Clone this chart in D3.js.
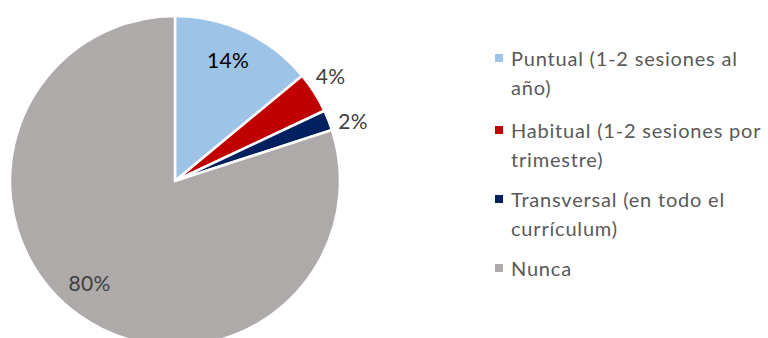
<!DOCTYPE html>
<html>
<head>
<meta charset="utf-8">
<script src="https://cdn.jsdelivr.net/npm/d3@7"></script>
<style>
  html, body { margin: 0; padding: 0; background: #fff; }
  svg { display: block; font-family: Lato, "Open Sans", sans-serif; }
</style>
</head>
<body>
<svg id="chart" width="768" height="338"></svg>
<script>
// Frecuencia de sesiones
const categories = [
  ["Puntual (1-2 sesiones al", "año)"],
  ["Habitual (1-2 sesiones por", "trimestre)"],
  ["Transversal (en todo el", "currículum)"],
  ["Nunca"]
];
const values = [14, 4, 2, 80];
const valueLabels = ["14%", "4%", "2%", "80%"];
const colors = ["#9DC3E6", "#C00000", "#002060", "#AEAAAA"];

const svg = d3.select("#chart");
const cx = 175, cy = 181, R = 165;

const pie = d3.pie().sort(null).value(d => d)(values);
const arc = d3.arc().innerRadius(0).outerRadius(R);

const g = svg.append("g").attr("transform", `translate(${cx},${cy})`);

g.selectAll("path.slice")
  .data(pie)
  .join("path")
  .attr("class", "slice")
  .attr("d", arc)
  .attr("fill", (d, i) => colors[i])
  .attr("stroke", "#fff")
  .attr("stroke-width", 2.5)
  .attr("stroke-linejoin", "round");

// inside labels for large slices, outside for thin ones
const inner = d3.arc().innerRadius(133).outerRadius(133);
const outer = d3.arc().innerRadius(188).outerRadius(188);
g.selectAll("text.val")
  .data(pie)
  .join("text")
  .attr("class", "val")
  .attr("transform", (d, i) => {
    const big = values[i] >= 10;
    const a = (d.startAngle + d.endAngle) / 2 + (big ? (i === 0 ? -0.03 : 0.07) : (i === 1 ? -0.03 : 0.05));
    const r = big ? 133 : 188;
    return `translate(${r * Math.sin(a)},${-r * Math.cos(a)})`;
  })
  .attr("text-anchor", "middle")
  .attr("dominant-baseline", "central")
  .attr("font-size", 21)
  .attr("letter-spacing", 0.3)
  .attr("fill", (d, i) => i === 0 ? "#000" : "#404040")
  .text((d, i) => valueLabels[i]);

// legend
const legY = d3.scaleOrdinal().domain(d3.range(4)).range([58, 130, 199, 268]);
const leg = svg.append("g");
const items = leg.selectAll("g.item")
  .data(categories)
  .join("g")
  .attr("class", "item")
  .attr("transform", (d, i) => `translate(495,${legY(i)})`);

items.append("rect")
  .attr("x", 0).attr("y", -4)
  .attr("width", 8).attr("height", 8)
  .attr("fill", (d, i) => colors[i]);

items.append("text")
  .attr("x", 16)
  .attr("font-size", 20)
  .attr("letter-spacing", 0.8)
  .attr("fill", "#595959")
  .selectAll("tspan")
  .data(d => d)
  .join("tspan")
  .attr("x", 16)
  .attr("y", (d, j) => j * 28.5)
  .attr("dominant-baseline", "central")
  .text(d => d);
</script>
</body>
</html>
